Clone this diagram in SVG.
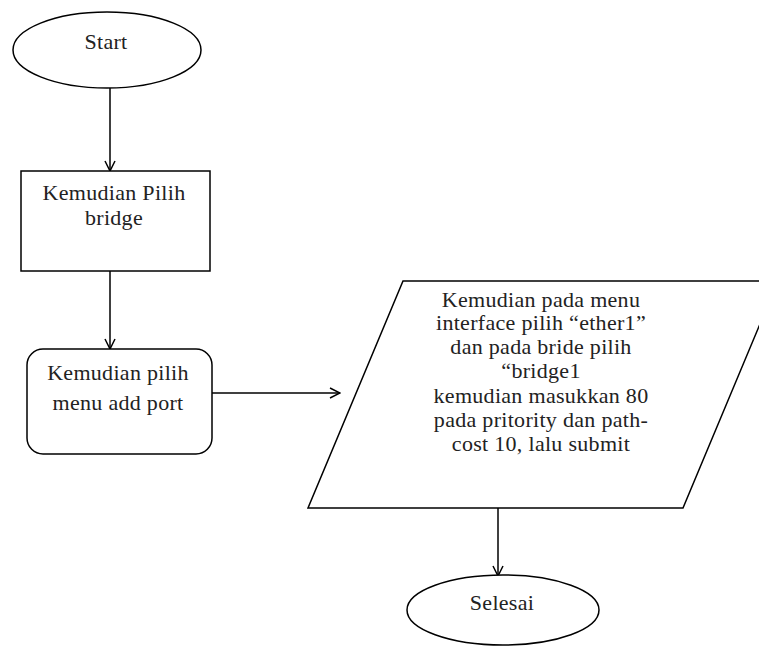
<svg xmlns="http://www.w3.org/2000/svg" width="759" height="646" viewBox="0 0 759 646">
  <style>
    .shape { fill: #ffffff; stroke: #000000; stroke-width: 1.5; }
    .label { font-family: "Liberation Serif", "Times New Roman", serif; font-size: 22px; letter-spacing: 0.3px; fill: #222222; text-anchor: middle; }
    .edge { fill: none; stroke: #000000; stroke-width: 1.5; }
  </style>
  <defs>
    <marker id="arrow" viewBox="0 0 12 12" refX="11" refY="6" markerWidth="12" markerHeight="12" markerUnits="userSpaceOnUse" orient="auto">
      <path d="M1,1 L11,6 L1,11" fill="none" stroke="#000000" stroke-width="1.5"/>
    </marker>
  </defs>
  <rect width="759" height="646" fill="#ffffff"/>

  <g id="connectors">
    <line class="edge" x1="110" y1="88" x2="110" y2="171" marker-end="url(#arrow)"/>
    <line class="edge" x1="110" y1="271" x2="110" y2="349" marker-end="url(#arrow)"/>
    <line class="edge" x1="212" y1="393" x2="340" y2="393" marker-end="url(#arrow)"/>
    <line class="edge" x1="498" y1="508" x2="498" y2="576" marker-end="url(#arrow)"/>
  </g>

  <g id="start">
    <ellipse class="shape" cx="107" cy="50" rx="94" ry="38"/>
    <text class="label" x="106" y="49">Start</text>
  </g>

  <g id="pilih-bridge">
    <rect class="shape" x="21" y="171" width="189" height="100"/>
    <text class="label" x="114" y="200">Kemudian Pilih</text>
    <text class="label" x="114" y="225">bridge</text>
  </g>

  <g id="add-port">
    <rect class="shape" x="27" y="349" width="185" height="105" rx="16" ry="16"/>
    <text class="label" x="118" y="380">Kemudian pilih</text>
    <text class="label" x="118" y="410">menu add port</text>
  </g>

  <g id="port-settings">
    <polygon class="shape" points="403,281 778,281 683,508 308,508"/>
    <text class="label" x="541" y="307">Kemudian pada menu</text>
    <text class="label" x="541" y="330">interface pilih “ether1”</text>
    <text class="label" x="541" y="354">dan pada bride pilih</text>
    <text class="label" x="541" y="378">“bridge1</text>
    <text class="label" x="541" y="403">kemudian masukkan 80</text>
    <text class="label" x="541" y="427">pada pritority dan path-</text>
    <text class="label" x="541" y="451">cost 10, lalu submit</text>
  </g>

  <g id="selesai">
    <ellipse class="shape" cx="503" cy="610" rx="96" ry="35"/>
    <text class="label" x="502" y="610">Selesai</text>
  </g>
</svg>
